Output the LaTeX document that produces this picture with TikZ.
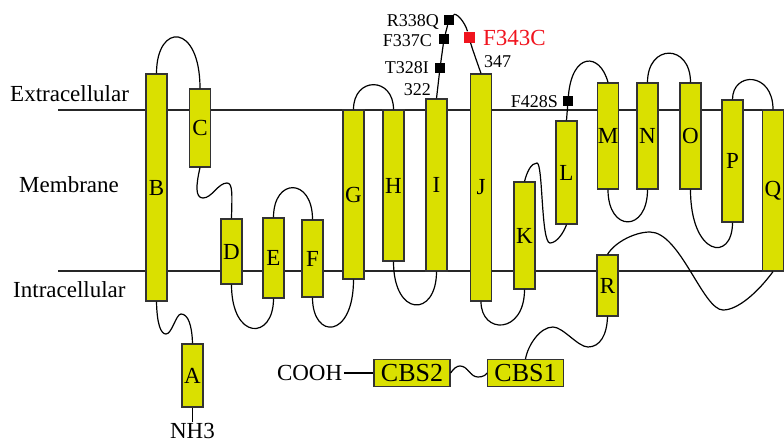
\documentclass[tikz,border=0pt]{standalone}
\usepackage{fontspec}
\setmainfont{Liberation Serif}
\usepackage{xcolor}
\usepackage{tikz}
\usetikzlibrary{calc,positioning}
\definecolor{helix}{RGB}{218,224,0}
\definecolor{rim}{HTML}{333333}
\definecolor{mutred}{HTML}{F0141E}
\newcommand{\bigfont}{\fontsize{23}{27}\selectfont}
\newcommand{\tagfont}{\fontsize{18}{21}\selectfont}
\newcommand{\cbsfont}{\fontsize{26}{30}\selectfont}

\begin{document}
\begin{tikzpicture}[x=1pt,y=-1pt,
  helixbox/.style={draw=rim,fill=helix,line width=1.2pt,minimum width=21pt,inner sep=0pt,font=\bigfont},
  loopline/.style={black,line width=1.2pt},
  site/.style={fill=black,inner sep=0pt,minimum size=10pt},
  tag/.style={inner sep=0pt,font=\tagfont}]
  \useasboundingbox (0,0) rectangle (784,445);
  \coordinate (exL) at (58,110); \coordinate (exR) at (784,110);
  \coordinate (inL) at (58,271); \coordinate (inR) at (784,271);
  \draw[black!85,line width=1.2pt] (exL)--(exR);
  \draw[black!85,line width=1.2pt] (inL)--(inR);
  \node[anchor=base west,inner sep=0pt,font=\bigfont] (extra) at (10,101) {Extracellular};
  \node[anchor=base west,inner sep=0pt,font=\bigfont] (memb)  at (19,192) {Membrane};
  \node[anchor=base west,inner sep=0pt,font=\bigfont] (intra) at (13,297) {Intracellular};
  \foreach \n/\cx/\yt/\yb in {A/192.5/344/407, B/156.5/74/301, C/200/89/167, D/231.5/219/284,
      E/273.5/218/298, F/312.5/220/297, G/353.5/110/279, H/393.5/110/261, I/436.5/99/271,
      J/481/74/301, K/524.5/182/289, L/566.5/121/224, M/608/83/189, N/647.5/83/189,
      O/690.5/83/189, P/732.5/100/222, Q/773/110/271, R/607.5/255/316} {
    \pgfmathsetmacro\boxh{\yb-\yt}
    \node[helixbox,minimum height=\boxh pt] (\n) at (\cx,{(\yt+\yb)/2}) {\n};
  }
  \node[helixbox,minimum width=76pt,minimum height=27pt,font=\cbsfont] (CBS2) at (412,373) {CBS2};
  \node[helixbox,minimum width=76pt,minimum height=27pt,font=\cbsfont] (CBS1) at (525.5,373) {CBS1};
  \node[inner sep=2pt,font=\bigfont,left=29pt of CBS2] (cooh) {COOH};
  \node[inner sep=1.5pt,font=\bigfont,below=14pt of A] (nh3) {NH3};
  \draw[loopline] (cooh) -- (CBS2);
  \draw[loopline] (A) -- (nh3);
  % loops over the membrane and below it
  \foreach \p/\q/\hp/\hq in {B/C/51/66, E/F/40/42, G/H/33/33, N/O/39/39, P/Q/28/38}
    \draw[loopline] (\p.north) .. controls +(0,-\hp) and +(0,-\hq) .. (\q.north);
  \foreach \p/\q/\hp/\hq in {D/E/56/42, F/G/42/60, H/I/56/46, J/K/33/45, M/N/43/43, O/P/67/40}
    \draw[loopline] (\p.south) .. controls +(0,\hp) and +(0,\hq) .. (\q.south);
  \draw[loopline] (B.south) .. controls (157,325) and (161,334) .. (166,334)
    .. controls (172,334) and (176,314) .. (181,314) .. controls (188,314) and (192,325) .. (A.north);
  \draw[loopline] (C.south) .. controls (196,185) and (195,198) .. (203,198)
    .. controls (212,198) and (218,183) .. (227,183) .. controls (233,183) and (232,195) .. (D.north);
  \draw[loopline] (K.north) .. controls (527,172) and (531,163) .. (537,163)
    .. controls (543,163) and (541,243) .. (550,243) .. controls (557,243) and (564,232) .. (L.south);
  \draw[loopline] (Q.south) .. controls (758,292) and (738,310) .. (723,310)
    .. controls (703,310) and (680,232) .. (650,232) .. controls (635,232) and (615,242) .. (R.north);
  \draw[loopline] (R.south) .. controls (607,335) and (600,347) .. (588,347)
    .. controls (578,347) and (563,327) .. (553,327) .. controls (540,327) and (528,345) .. (CBS1.north);
  \draw[loopline] (CBS2.east) .. controls (454,368) and (457,366) .. (460,366)
    .. controls (468,366) and (470,377) .. (478,377) .. controls (483,377) and (486,375) .. (CBS1.west);
  % mutation sites
  \node[site] (mR) at (449,20) {};
  \node[site] (mF) at (444,39) {};
  \node[site] (mT) at (440,68) {};
  \node[site,fill=mutred,minimum size=11pt] (mC) at (469,37) {};
  \node[site] (mS) at (568,101) {};
  \draw[loopline] (I.north) -- (mT) -- (mF) -- (mR) .. controls (456,12) and (465,22) .. (mC)
    .. controls (472,48) and (477,62) .. (J.north);
  \draw[loopline] (L.north) -- (mS) .. controls (572,52) and (600,52) .. (M.north);
  \node[tag,anchor=base east] (tR) at ($(mR)+(-10,6)$) {R338Q};
  \node[tag,anchor=base east] (tF) at ($(mF)+(-12,7)$) {F337C};
  \node[tag,anchor=base east] (tT) at ($(mT)+(-11,5)$) {T328I};
  \node[tag,anchor=base east] (tS) at ($(mS)+(-10,6)$) {F428S};
  \node[tag,anchor=base east] (t322) at ($(I.north)+(-5.5,-3)$) {322};
  \node[tag,anchor=base west] (t347) at ($(J.north)+(3,-6)$) {347};
  \node[inner sep=0pt,font=\bigfont,text=mutred,anchor=base west] (tC) at ($(mC)+(14,8)$) {F343C};
\end{tikzpicture}
\end{document}
